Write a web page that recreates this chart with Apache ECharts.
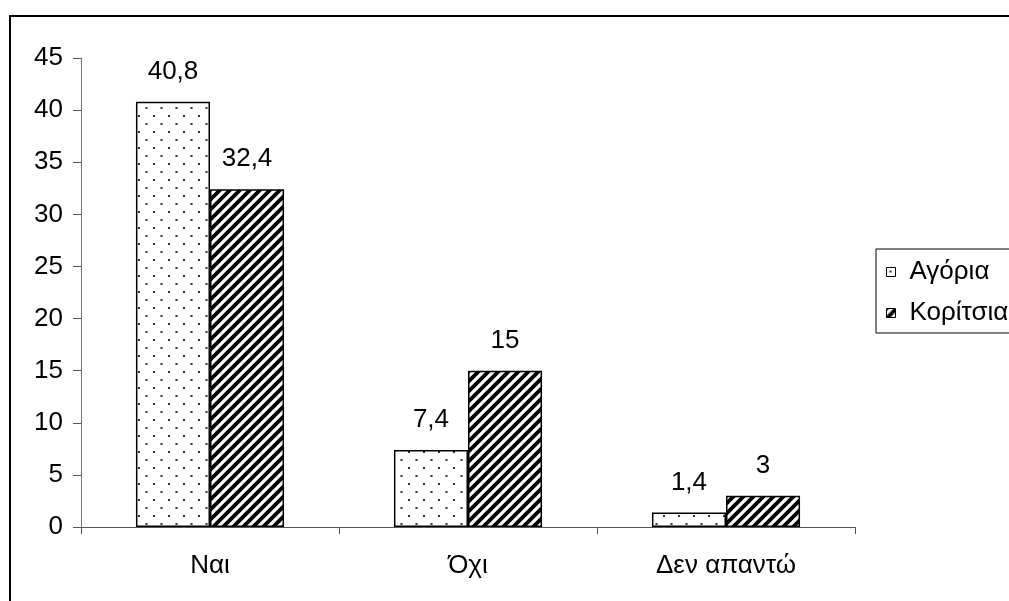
<!DOCTYPE html>
<html><head><meta charset="utf-8">
<script src="https://cdn.jsdelivr.net/npm/echarts@6/dist/echarts.min.js"></script>
<style>html,body{margin:0;padding:0;background:#fff}#c{width:1009px;height:601px}</style>
</head><body><div id="c"></div>
<script>
var categories = ['Ναι', 'Όχι', 'Δεν απαντώ'];
var boys = [40.8, 7.4, 1.4];
var girls = [32.4, 15, 3];
var seriesNames = ['Αγόρια', 'Κορίτσια'];
var yTicks = {min: 0, max: 45, interval: 5};

function dotPattern() {
  var c = document.createElement('canvas'); c.width = 15; c.height = 16;
  var g = c.getContext('2d');
  g.fillStyle = '#fff'; g.fillRect(0, 0, 15, 16);
  g.fillStyle = '#333';
  g.fillRect(3, 3, 2, 2);
  g.fillRect(10.5, 11, 2, 2);
  return c;
}
function hatchPattern() {
  var s = 10;
  var c = document.createElement('canvas'); c.width = s; c.height = s;
  var g = c.getContext('2d');
  g.fillStyle = '#fff'; g.fillRect(0, 0, s, s);
  g.strokeStyle = '#000'; g.lineWidth = 3.8;
  g.beginPath();
  g.moveTo(-s, 2 * s); g.lineTo(2 * s, -s);
  g.moveTo(-2 * s, 2 * s); g.lineTo(s, -s);
  g.moveTo(0, 2 * s); g.lineTo(3 * s, -s);
  g.stroke();
  return c;
}
var chart = echarts.init(document.getElementById('c'));
var fmt = function (p) { return String(p.value).replace('.', ','); };
var font = 'Liberation Sans';
var fs = 26;
chart.setOption({
  animation: false,
  backgroundColor: '#fff',
  graphic: [{type: 'rect', shape: {x: 10, y: 16, width: 1300, height: 900}, style: {fill: 'none', stroke: '#000', lineWidth: 2}, silent: true}],
  grid: {left: 81, right: 154, top: 58, bottom: 74},
  legend: {
    orient: 'vertical', left: 876, top: 249,
    padding: [10, 40, 7, 10], itemGap: 15, itemWidth: 9, itemHeight: 9, icon: 'rect',
    borderColor: '#000', borderWidth: 1, borderRadius: 0, itemStyle: {borderColor: '#000', borderWidth: 1},
    textStyle: {fontFamily: font, fontSize: fs, lineHeight: 26, color: '#000', padding: [0, 0, 0, 9]},
    data: seriesNames
  },
  xAxis: {
    type: 'category', data: categories,
    axisLine: {lineStyle: {color: '#555', width: 1}},
    axisTick: {show: true, inside: false, length: 7, alignWithLabel: false, lineStyle: {color: '#555'}},
    axisLabel: {margin: 26, fontFamily: font, fontSize: fs, color: '#000'}
  },
  yAxis: {
    type: 'value', min: yTicks.min, max: yTicks.max, interval: yTicks.interval,
    axisLine: {show: true, lineStyle: {color: '#777', width: 1}},
    axisTick: {show: true, length: 8, lineStyle: {color: '#555'}},
    splitLine: {show: false},
    axisLabel: {margin: 18, fontFamily: font, fontSize: fs, color: '#000'}
  },
  series: [
    {name: seriesNames[0], type: 'bar', data: boys, barGap: '0%', barCategoryGap: '42.6%',
     itemStyle: {color: {image: dotPattern(), repeat: 'repeat'}, borderColor: '#000', borderWidth: 1.5},
     label: {show: true, position: 'top', distance: 17, formatter: fmt, fontFamily: font, fontSize: fs, color: '#000'}},
    {name: seriesNames[1], type: 'bar', data: girls, barGap: '0%', barCategoryGap: '42.6%',
     itemStyle: {color: {image: hatchPattern(), repeat: 'repeat'}, borderColor: '#000', borderWidth: 1.5},
     label: {show: true, position: 'top', distance: 17, formatter: fmt, fontFamily: font, fontSize: fs, color: '#000'}}
  ]
});
</script></body></html>
